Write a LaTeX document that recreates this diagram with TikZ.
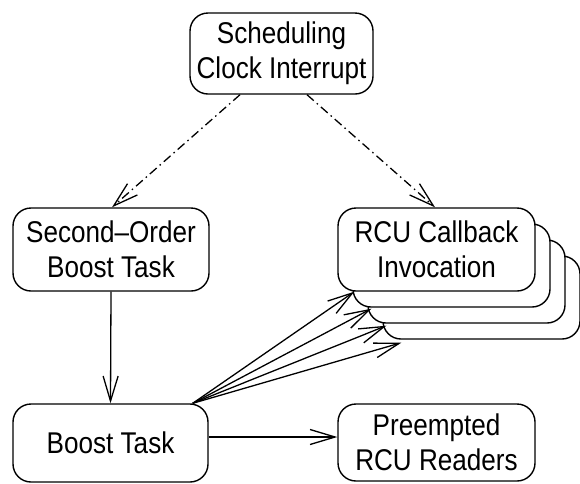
\documentclass[tikz,border=0pt]{standalone}
\usepackage{fontspec}
\setmainfont{Liberation Sans}
\newfontfamily\lab[FakeStretch=0.87]{Liberation Sans}
\usetikzlibrary{arrows.meta,calc}
\begin{document}
\begin{tikzpicture}[x=1pt,y=-1pt,
  box/.style={draw,line width=1.4pt,rounded corners=18pt,fill=white,inner sep=0pt,align=center,font={\fontsize{30}{35}\lab}},
  arr/.style={line width=1.3pt,-{Straight Barb[length=25pt,width=15pt]}},
  dd/.style={arr,dash pattern=on 9pt off 4pt on 1.5pt off 4pt}]
\useasboundingbox (0,0) rectangle (580,483);
\node[box,minimum width=183pt,minimum height=81pt] (sched) at (281.5,53.5) {Scheduling\\Clock Interrupt};
\node[box,minimum width=196pt,minimum height=83pt] (second) at (111,249.5) {Second\textendash Order\\Boost Task};
\node[box,minimum width=197pt,minimum height=83pt] (rcud) at (481.5,297.5) {};
\node[box,minimum width=197pt,minimum height=83pt] (rcuc) at (466.5,281.5) {};
\node[box,minimum width=197pt,minimum height=83pt] (rcub) at (451.5,265.5) {};
\node[box,minimum width=197pt,minimum height=83pt] (rcu) at (436.5,249.5) {RCU Callback\\Invocation};
\node[box,minimum width=195pt,minimum height=78pt] (boost) at (110.5,443) {Boost Task};
\node[box,minimum width=197pt,minimum height=77pt] (readers) at (436.5,442.5) {Preempted\\RCU Readers};
\draw[dd] ($(sched.south)+(-41.5,0)$) -- ($(second.north)+(1,0)$);
\draw[dd] ($(sched.south)+(25.5,0)$) -- ($(rcu.north)+(-1.5,0)$);
\draw[arr] (second.south) -- (boost.north);
\coordinate (src) at ($(boost.north east)+(-16,0)$);
\draw[arr] (src) -- ($(rcu.south west)+(17,0)$);
\draw[arr] (src) -- ($(rcub.south west)+(19,1)$);
\draw[arr] (src) -- ($(rcuc.south west)+(19,2)$);
\draw[arr] (src) -- ($(rcud.south west)+(19,3)$);
\draw[arr] (boost.east |- 0,437) -- (readers.west |- 0,437);
\end{tikzpicture}
\end{document}
